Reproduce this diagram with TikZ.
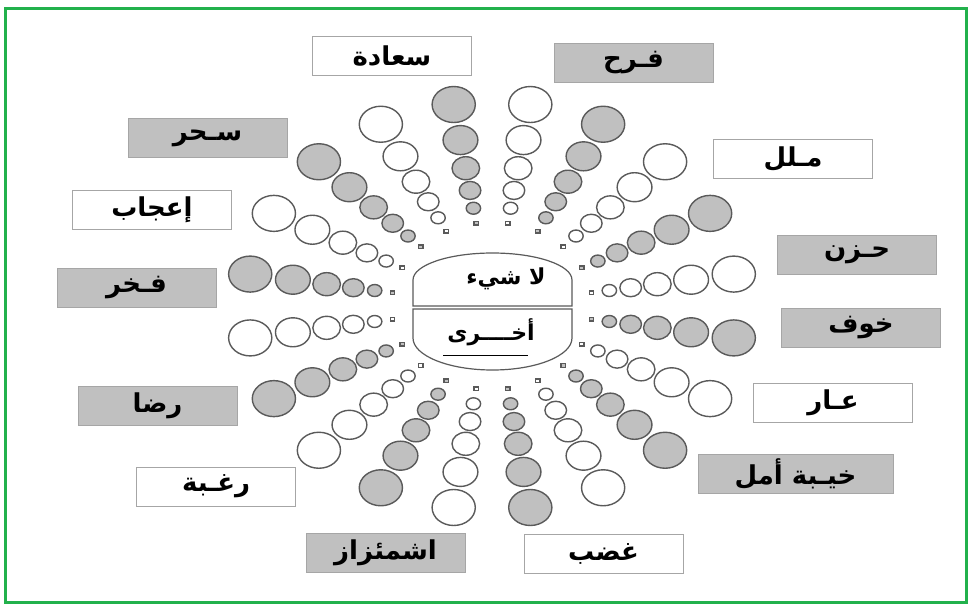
\documentclass[tikz,border=0pt]{standalone}
\usepackage{fontspec}
\usepackage{tikz}
\usetikzlibrary{positioning,calc}
\newfontfamily\arabicfont[Script=Arabic]{DejaVu Sans}
\TeXXeTstate=1
\definecolor{DotGray}{HTML}{C0C0C0}
\definecolor{DotLine}{HTML}{5A5A5A}
\definecolor{BoxLine}{HTML}{A6A6A6}
\definecolor{FrameGreen}{HTML}{22B14C}

\begin{document}
\begin{tikzpicture}[
    x=1pt, y=-1pt,
    graydot/.style={
      draw=DotLine,
      fill=DotGray,
      line width=1.4pt
    },
    whitedot/.style={
      draw=DotLine,
      fill=white,
      line width=1.4pt
    },
    lbl/.style={
      draw=BoxLine,
      line width=0.9pt,
      minimum width=159pt,
      minimum height=39pt,
      inner sep=0pt,
      font=\arabicfont\bfseries\fontsize{26}{30}\selectfont
    },
    graylbl/.style={lbl, fill=DotGray},
    whitelbl/.style={lbl, fill=white},
    hub/.style={
      draw=DotLine,
      fill=white,
      line width=1.2pt
    },
    hubtext/.style={
      font=\arabicfont\bfseries\fontsize{22}{26}\selectfont
    }
  ]
  \useasboundingbox (0,0) rectangle (970,606);

  % Frame
  \draw[FrameGreen, line width=3pt] (5,8) rectangle (966,602);

  % Rays of dots
  \begin{scope}[shift={(492,306)}, xscale=1.2, yscale=-1]
    \foreach \ang in {81,117,...,405} {
      \draw[whitedot] (\ang:84) ++(-1.8,-1.8) rectangle ++(3.6,3.6);
      \foreach \d/\r in {99/6,117/9,139.5/11.5,168/14.5,204/18}
        \draw[whitedot] (\ang:\d) circle[radius=\r];
    }
    \foreach \ang in {99,135,...,423} {
      \draw[graydot] (\ang:84) ++(-1.8,-1.8) rectangle ++(3.6,3.6);
      \foreach \d/\r in {99/6,117/9,139.5/11.5,168/14.5,204/18}
        \draw[graydot] (\ang:\d) circle[radius=\r];
    }
  \end{scope}

  % Hub
  \draw[hub] (413,306) -- (413,280)
    arc[start angle=180, end angle=360, x radius=79.5, y radius=27]
    -- (572,306) -- cycle;
  \draw[hub] (413,309) -- (413,338)
    arc[start angle=180, end angle=0, x radius=79.5, y radius=32]
    -- (572,309) -- cycle;
  \node[hubtext] (nothing) at (506,279) {\beginR لا شيء\endR};
  \node[hubtext] (other) at (491,332) {\beginR أخــــرى\endR};
  \draw[line width=1pt] ([xshift=-48pt,yshift=-23pt]other.center)
    -- ([xshift=37pt,yshift=-23pt]other.center);

  % Labels, top and left
  \node[whitelbl] (saada) at (392,56) {\beginR سعادة\endR};
  \node[graylbl] (farah) at (633.5,62.5) {\beginR فـرح\endR};
  \node[graylbl] (sahar) at (207.5,138) {\beginR سـحر\endR};
  \node[whitelbl] (ijab) at (152,210) {\beginR إعجاب\endR};
  \node[graylbl] (fakhr) at (136.5,287.5) {\beginR فـخر\endR};
  \node[graylbl] (rida) at (157.5,406) {\beginR رضا\endR};
  \node[whitelbl] (raghba) at (216,486.5) {\beginR رغـبة\endR};

  % Labels, right and bottom
  \node[whitelbl] (malal) at (793,158.5) {\beginR مـلل\endR};
  \node[graylbl] (huzn) at (857,255) {\beginR حـزن\endR};
  \node[graylbl] (khawf) at (861,328) {\beginR خوف\endR};
  \node[whitelbl] (aar) at (833,402.5) {\beginR عـار\endR};
  \node[graylbl, minimum width=195pt] (khayba) at (795.5,474) {\beginR خيـبة أمل\endR};
  \node[graylbl] (ishmi) at (385.5,553) {\beginR اشمئزاز\endR};
  \node[whitelbl] (ghadab) at (603.5,553.5) {\beginR غضب\endR};

\end{tikzpicture}
\end{document}
